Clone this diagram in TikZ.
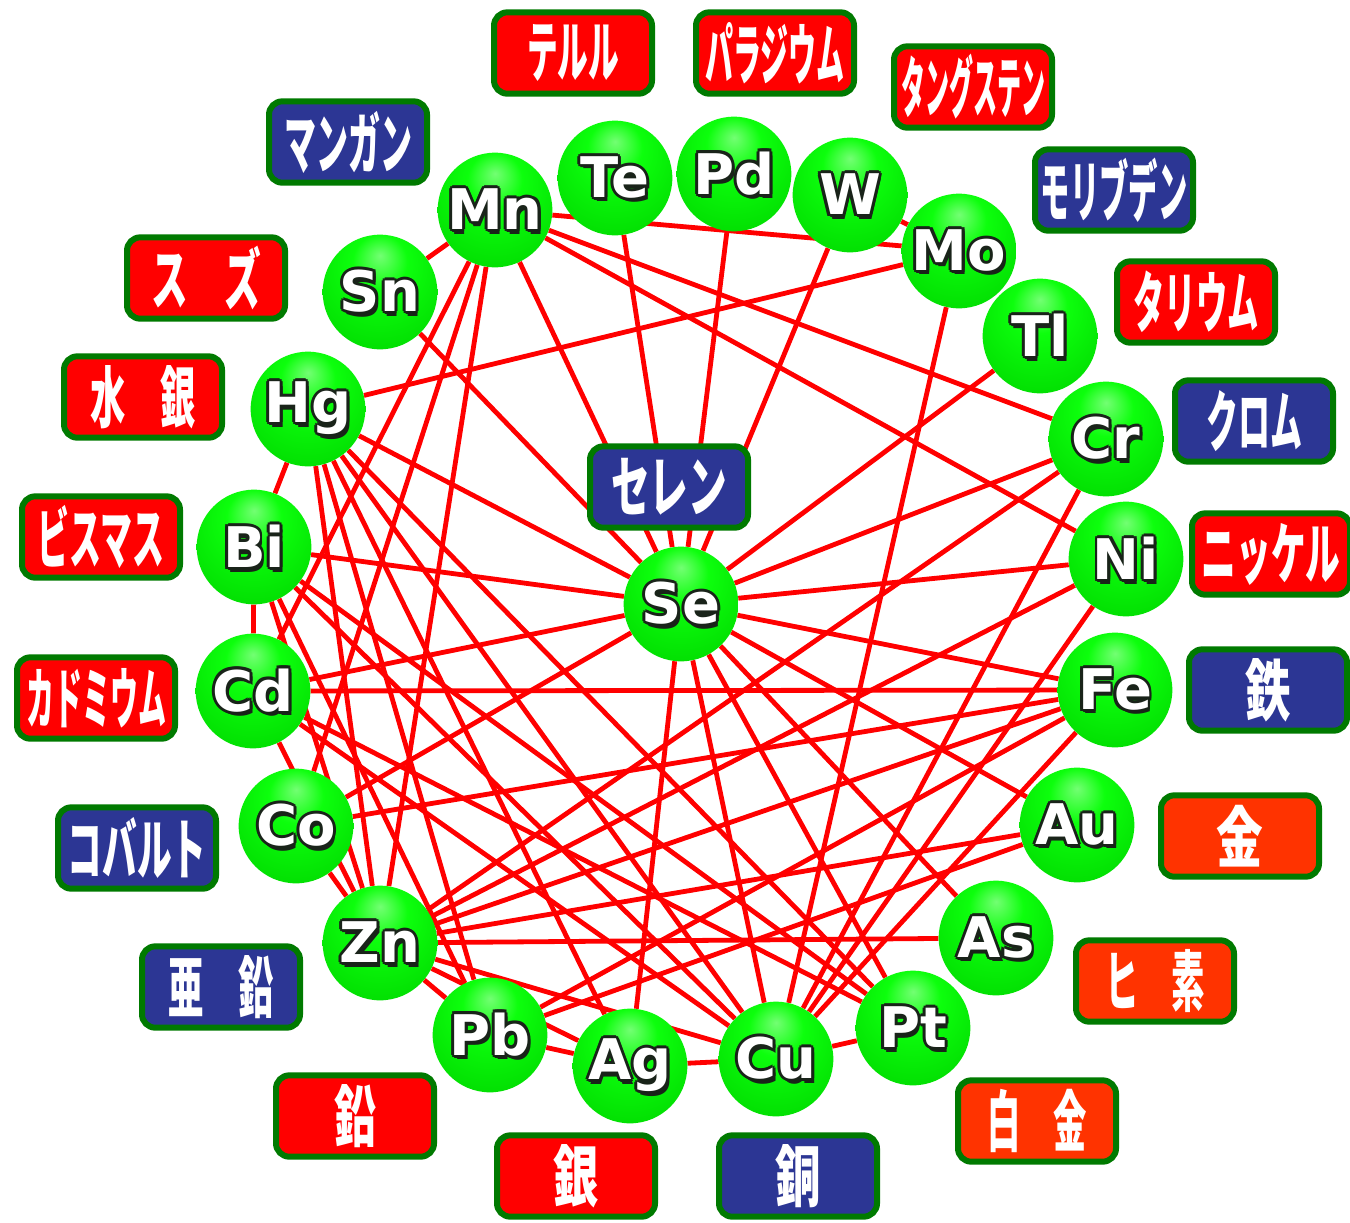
\documentclass[tikz,border=0pt]{standalone}
\usepackage{fontspec}
\usepackage{graphicx}
\setmainfont{DejaVu Sans}
\newfontfamily\jp{Noto Sans CJK JP}
\newfontfamily\elfont{DejaVu Sans}
\definecolor{lred}{RGB}{255,0,0}
\definecolor{lblue}{RGB}{44,54,148}
\definecolor{lorange}{RGB}{255,51,0}
\definecolor{bordergreen}{RGB}{0,122,0}
\definecolor{linkred}{RGB}{255,0,0}
\definecolor{elink}{RGB}{25,35,25}
\pgfdeclareradialshading{gball}{\pgfpoint{0bp}{16bp}}{rgb(0bp)=(0.45,1,0.45); rgb(12bp)=(0.05,1,0.05); rgb(38bp)=(0,0.85,0); rgb(55bp)=(0,0.62,0); rgb(66bp)=(0,0.38,0)}
\pgfdeclarelayer{back}
\pgfdeclarelayer{edges}
\pgfsetlayers{back,edges,main}
\newcommand\osh[3]{\rlap{\kern#1\raisebox{#2}{\textcolor{elink}{#3}}}}
\newcommand\eltxt[1]{\osh{2.2pt}{0pt}{#1}\osh{-2.2pt}{0pt}{#1}\osh{0pt}{2.2pt}{#1}\osh{0pt}{-2.2pt}{#1}\osh{1.6pt}{1.6pt}{#1}\osh{-1.6pt}{1.6pt}{#1}\osh{1.6pt}{-1.6pt}{#1}\osh{-1.6pt}{-1.6pt}{#1}\osh{2pt}{-3.4pt}{#1}\textcolor{white}{#1}}
\newcommand\jt[2]{\scalebox{#1}[1]{#2}}
\begin{document}
\begin{tikzpicture}[x=0.75pt,y=-0.75pt,
  atom/.style={circle,minimum size=86pt,inner sep=0pt,shading=gball,
    font=\elfont\bfseries\fontsize{42pt}{42pt}\selectfont},
  namebox/.style={rounded corners=10pt,draw=bordergreen,line width=4.5pt,
    minimum width=118.5pt,minimum height=61pt,inner sep=0pt,text=white,
    font=\jp\bfseries\fontsize{50pt}{50pt}\selectfont},
  redbox/.style={namebox,fill=lred},
  bluebox/.style={namebox,fill=lblue},
  orangebox/.style={namebox,fill=lorange},
  link/.style={draw=linkred,line width=3.6pt}]
\begin{pgfonlayer}{back}
\fill[white] (0,0) rectangle (1350,1222);
\end{pgfonlayer}
\useasboundingbox (0,0) rectangle (1350,1222);
% spheres
\node[atom] (Te) at (615,178) {\eltxt{Te}};
\node[atom] (Pd) at (734,174) {\eltxt{Pd}};
\node[atom] (W) at (850,195) {\eltxt{W}};
\node[atom] (Mn) at (495,210) {\eltxt{Mn}};
\node[atom] (Mo) at (959,251) {\eltxt{Mo}};
\node[atom] (Sn) at (380,292) {\eltxt{Sn}};
\node[atom] (Tl) at (1040,336) {\eltxt{Tl}};
\node[atom] (Hg) at (308,409) {\eltxt{Hg}};
\node[atom] (Cr) at (1106,439) {\eltxt{Cr}};
\node[atom] (Bi) at (254,547) {\eltxt{Bi}};
\node[atom] (Ni) at (1126,559) {\eltxt{Ni}};
\node[atom] (Se) at (681,604) {\eltxt{Se}};
\node[atom] (Cd) at (253,691) {\eltxt{Cd}};
\node[atom] (Fe) at (1115,690) {\eltxt{Fe}};
\node[atom] (Co) at (296,826) {\eltxt{Co}};
\node[atom] (Au) at (1077,825) {\eltxt{Au}};
\node[atom] (Zn) at (380,943) {\eltxt{Zn}};
\node[atom] (As) at (996,938) {\eltxt{As}};
\node[atom] (Pb) at (490,1035) {\eltxt{Pb}};
\node[atom] (Pt) at (913,1028) {\eltxt{Pt}};
\node[atom] (Ag) at (630,1066) {\eltxt{Ag}};
\node[atom] (Cu) at (776,1059) {\eltxt{Cu}};
% connectors
\begin{pgfonlayer}{edges}
\foreach \a/\b in {Mn/Sn, Mn/Mo, Mn/Cr, Mn/Ni, Mn/Se, Mn/Cd, Mn/Co, Mn/Zn,
  Te/Se, Pd/Se, W/Se, W/Mo, Mo/Hg, Mo/Cu, Tl/Se, Cr/Se, Cr/Zn, Cr/Cu,
  Ni/Se, Ni/Zn, Ni/Cu, Fe/Se, Fe/Cd, Fe/Co, Fe/Zn, Fe/Pb, Fe/Cu,
  Au/Se, Au/Zn, Au/Pb, As/Se, As/Zn, Pt/Se, Pt/Cu, Pt/Hg, Pt/Bi, Pt/Cd,
  Sn/Se, Hg/Se, Hg/Bi, Hg/Zn, Hg/Pb, Hg/Ag, Hg/Cu, Bi/Cd, Bi/Se, Bi/Cu,
  Bi/Pb, Bi/Zn, Cd/Se, Cd/Zn, Cd/Cu, Co/Se, Co/Zn, Se/Cu, Se/Ag,
  Zn/Cu, Zn/Ag, Zn/Pb, Pb/Ag, Ag/Cu}
  \draw[link] (\a) -- (\b);
\end{pgfonlayer}
% name labels
\node[redbox] (lTe) at (573,53) {\jt{0.46}{テルル}};
\node[redbox] (lPd) at (775,53) {\jt{0.42}{パラジウム}};
\node[redbox] (lW) at (973,87) {\jt{0.36}{タングステン}};
\node[bluebox] (lMn) at (348,142) {\jt{0.48}{マンガン}};
\node[bluebox] (lMo) at (1114,190) {\jt{0.44}{モリブデン}};
\node[redbox] (lSn) at (206,278) {\jt{0.55}{ス　ズ}};
\node[redbox] (lTl) at (1196,302) {\jt{0.47}{タリウム}};
\node[redbox] (lHg) at (143,397) {\jt{0.53}{水　銀}};
\node[bluebox] (lCr) at (1254,421) {\jt{0.48}{クロム}};
\node[redbox] (lBi) at (101,537) {\jt{0.48}{ビスマス}};
\node[bluebox] (lSe) at (669,487) {\jt{0.58}{セレン}};
\node[redbox] (lNi) at (1271,554) {\jt{0.52}{ニッケル}};
\node[redbox] (lCd) at (96,698) {\jt{0.42}{カドミウム}};
\node[bluebox] (lFe) at (1268,690) {\jt{0.68}{鉄}};
\node[orangebox] (lAu) at (1240,836) {\jt{0.7}{金}};
\node[bluebox] (lCo) at (137,848) {\jt{0.52}{コバルト}};
\node[bluebox] (lZn) at (221,987) {\jt{0.53}{亜　鉛}};
\node[orangebox] (lAs) at (1155,981) {\jt{0.5}{ヒ　素}};
\node[redbox] (lPb) at (355,1116) {\jt{0.63}{鉛}};
\node[orangebox] (lPt) at (1037,1121) {\jt{0.5}{白　金}};
\node[redbox] (lAg) at (576,1176) {\jt{0.68}{銀}};
\node[bluebox] (lCu) at (798,1176) {\jt{0.68}{銅}};
\end{tikzpicture}
\end{document}
